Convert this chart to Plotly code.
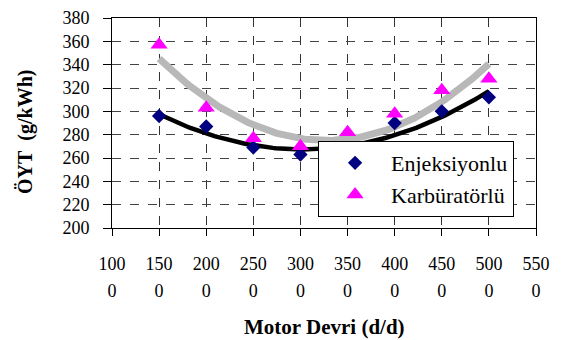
import numpy as np
import plotly.graph_objects as go

# Data
rpm = [1500, 2000, 2500, 3000, 3500, 4000, 4500, 5000]
enjeksiyonlu = [296, 287, 269, 263, 262, 290, 300, 312]
karburatorlu = [357, 303, 277, 270, 282, 298, 318, 328]
series_names = ["Enjeksiyonlu", "Karbüratörlü"]

x_tickvals = [1000, 1500, 2000, 2500, 3000, 3500, 4000, 4500, 5000, 5500]
x_tick_line1 = ["100", "150", "200", "250", "300", "350", "400", "450", "500", "550"]
x_tick_line2 = ["0", "0", "0", "0", "0", "0", "0", "0", "0", "0"]
y_tickvals = [200, 220, 240, 260, 280, 300, 320, 340, 360, 380]

FONT = "Liberation Serif"


def f(size):
    return dict(family=FONT, size=size, color="black")


# polynomial (2nd order) trendlines, as in the original spreadsheet chart
xs = np.linspace(min(rpm), max(rpm), 120)
fit_e = np.polyval(np.polyfit(rpm, enjeksiyonlu, 2), xs)
fit_k = np.polyval(np.polyfit(rpm, karburatorlu, 2), xs)

fig = go.Figure()
fig.add_trace(go.Scatter(x=xs, y=fit_k, mode="lines", line=dict(color="#b8b8b8", width=7),
                         showlegend=False, hoverinfo="skip"))
fig.add_trace(go.Scatter(x=xs, y=fit_e, mode="lines", line=dict(color="black", width=4.5),
                         showlegend=False, hoverinfo="skip"))
fig.add_trace(go.Scatter(x=rpm, y=enjeksiyonlu, mode="markers", name=series_names[0],
                         marker=dict(symbol="diamond", size=11, color="#000080")))
fig.add_trace(go.Scatter(x=rpm, y=karburatorlu, mode="markers", name=series_names[1],
                         marker=dict(symbol="triangle-up", size=15, color="#ff00ff")))
# invisible trace so that the second row of tick labels (xaxis2) is drawn
fig.add_trace(go.Scatter(x=rpm, y=enjeksiyonlu, xaxis="x2", mode="markers",
                         marker=dict(opacity=0), showlegend=False, hoverinfo="skip"))

# the page body has an 8px margin, so the plot area is laid out 8px up/left
PLOT_TOP, PLOT_BOTTOM = 18, 228          # page pixels
PH = PLOT_BOTTOM - PLOT_TOP


def py(page_y):
    return (PLOT_BOTTOM - page_y) / PH


fig.update_layout(
    template="none",
    width=564, height=340,
    margin=dict(l=104, r=36, t=PLOT_TOP - 8, b=340 - (PLOT_BOTTOM - 8), pad=0),
    paper_bgcolor="white", plot_bgcolor="white",
    font=f(18),
    showlegend=True,
    legend=dict(x=0.486, y=py(141), xanchor="left", yanchor="top",
                bgcolor="white", bordercolor="black", borderwidth=1,
                font=f(22), itemwidth=62),
    xaxis=dict(range=[1000, 5500], tickvals=x_tickvals, ticktext=x_tick_line1,
               showline=True, linecolor="black", linewidth=1, mirror=True,
               ticks="outside", ticklen=7, tickcolor="black", tickwidth=1,
               showgrid=True, gridcolor="#333333", griddash="dash", gridwidth=1,
               zeroline=False, tickfont=f(18), ticklabelstandoff=12,
               ticklabeloverflow="allow", automargin=False),
    xaxis2=dict(range=[1000, 5500], tickvals=x_tickvals, ticktext=x_tick_line2,
                overlaying="x", anchor="y", side="bottom",
                showline=False, showgrid=False, ticks="", zeroline=False,
                tickfont=f(18), ticklabelstandoff=50, ticklabeloverflow="allow",
                automargin=False),
    yaxis=dict(range=[200, 380], tickvals=y_tickvals,
               showline=True, linecolor="black", linewidth=1, mirror=True,
               ticks="outside", ticklen=8, tickcolor="black", tickwidth=1,
               showgrid=True, gridcolor="#444444", griddash="dash", gridwidth=1,
               zeroline=False, tickfont=f(18), ticklabelstandoff=10,
               ticklabeloverflow="allow", automargin=False),
    annotations=[
        dict(text="<b>Motor Devri (d/d)</b>", xref="paper", yref="paper",
             x=0.5, y=py(327), xanchor="center", yanchor="middle",
             showarrow=False, font=f(21)),
        dict(text="<b>ÖYT\u00a0\u00a0(g/kWh)</b>", xref="paper", yref="paper",
             x=(25 - 112) / 424, y=py(132), xanchor="center", yanchor="middle",
             textangle=-90, showarrow=False, font=f(20)),
    ],
)

fig.write_html("out.html")
